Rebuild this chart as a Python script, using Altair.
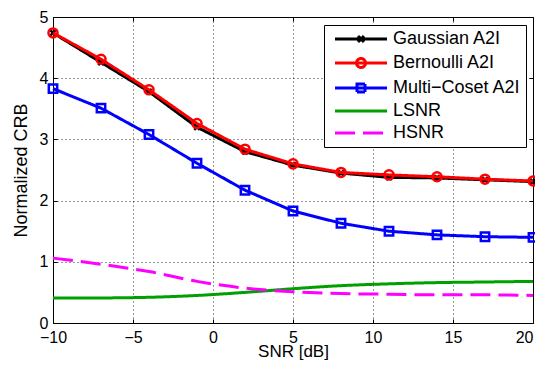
import altair as alt
import pandas as pd

# ---- data ----
snr = [-10, -7, -4, -1, 2, 5, 8, 11, 14, 17, 20]
gaussian = [4.74, 4.26, 3.78, 3.20, 2.80, 2.58, 2.45, 2.38, 2.37, 2.34, 2.31]
bernoulli = [4.74, 4.31, 3.81, 3.26, 2.84, 2.60, 2.46, 2.42, 2.39, 2.35, 2.32]
multicoset = [3.83, 3.51, 3.08, 2.61, 2.17, 1.83, 1.63, 1.50, 1.44, 1.41, 1.40]
lsnr = [0.41, 0.41, 0.42, 0.45, 0.50, 0.56, 0.61, 0.64, 0.66, 0.67, 0.68]
hsnr = [1.06, 0.96, 0.84, 0.68, 0.57, 0.51, 0.48, 0.47, 0.46, 0.46, 0.45]

series_names = ["Gaussian A2I", "Bernoulli A2I", "Multi\u2212Coset A2I", "LSNR", "HSNR"]
series_values = [gaussian, bernoulli, multicoset, lsnr, hsnr]
x_ticks = [-10, -5, 0, 5, 10, 15, 20]
y_ticks = [0, 1, 2, 3, 4, 5]

colors = ["#000000", "#ff0000", "#0000ff", "#00a000", "#ff00ff"]
dashes = [[1, 0], [1, 0], [1, 0], [1, 0], [20, 8]]
legend_shapes = [
    "M-5.2,0L5.2,0M-0.6,-0.6L0.6,0.6M-0.6,0.6L0.6,-0.6",
    "M-5.2,0L5.2,0M0.9,0A0.9,0.9 0 1 1 -0.9,0A0.9,0.9 0 1 1 0.9,0",
    "M-5.2,0L5.2,0M-0.8,-0.8L0.8,-0.8L0.8,0.8L-0.8,0.8Z",
    "M-5.2,0L5.2,0",
    "M-5.2,0L5.2,0",
]

rows = []
for name, vals in zip(series_names, series_values):
    for xv, yv in zip(snr, vals):
        rows.append({"series": name, "snr": xv, "crb": yv})
df = pd.DataFrame(rows)

FONT = "Liberation Sans"

xscale = alt.Scale(domain=[-10, 20], nice=False, zero=False)
yscale = alt.Scale(domain=[0, 5], nice=False, zero=False)

legend = alt.Legend(
    title=None, orient="none", legendX=271, legendY=8,
    fillColor="white", strokeColor="black", padding=5, cornerRadius=0,
    labelFont=FONT, labelFontSize=18, labelColor="black",
    symbolSize=100, symbolStrokeWidth=3, symbolOffset=23, labelOffset=23,
    rowPadding=4,
)
color_enc = alt.Color("series:N", scale=alt.Scale(domain=series_names, range=colors), legend=legend)
dash_enc = alt.StrokeDash("series:N", scale=alt.Scale(domain=series_names, range=dashes), legend=legend)
shape_enc = alt.Shape("series:N", scale=alt.Scale(domain=series_names, range=legend_shapes), legend=legend)

main_x_axis = alt.Axis(
    values=x_ticks, title="SNR [dB]", grid=True, gridDash=[1, 3], gridColor="#000000",
    gridOpacity=0.8, gridWidth=1, ticks=False, domain=False, labelFlush=False,
    labelOverlap=False, labelFont=FONT, labelFontSize=16, labelColor="black",
    labelExpr="datum.value == 20 ? '' : datum.label",
    labelPadding=6, titleFont=FONT, titleFontSize=17, titleFontWeight="normal",
    titleColor="black", titleBaseline="bottom", titleY=37, orient="bottom",
)
main_y_axis = alt.Axis(
    values=y_ticks, title="Normalized CRB", grid=True, gridDash=[1, 3], gridColor="#000000",
    gridOpacity=0.8, gridWidth=1, ticks=False, domain=False, labelFlush=False,
    labelOverlap=False, labelFont=FONT, labelFontSize=16, labelColor="black",
    labelPadding=5, titleFont=FONT, titleFontSize=18, titleFontWeight="normal",
    titleColor="black", titlePadding=9, orient="left",
)
# last x label, right-aligned so it stays inside the page
end_x_axis = alt.Axis(
    orient="bottom", values=[20], ticks=False, grid=False, domain=False, title=None,
    labelFlush=False, labelOverlap=False, labelFont=FONT, labelFontSize=16,
    labelColor="black", labelPadding=6, labelAlign="right",
)


def tick_axis(orient, values):
    return alt.Axis(
        orient=orient, values=values, offset=-4, tickSize=4, ticks=True,
        tickColor="black", tickWidth=1, labels=False, grid=False, domain=False, title=None,
    )


base = alt.Chart(df)


def xy(xaxis=None, yaxis=None):
    return dict(
        x=alt.X("snr:Q", scale=xscale, axis=xaxis),
        y=alt.Y("crb:Q", scale=yscale, axis=yaxis),
    )


smooth = base.transform_filter(
    alt.FieldOneOfPredicate(field="series", oneOf=["LSNR", "HSNR"])
).mark_line(strokeWidth=3, interpolate="monotone").encode(
    **xy(main_x_axis, main_y_axis), color=color_enc, strokeDash=dash_enc,
)


def series_line(i, xaxis=None, yaxis=None):
    return base.transform_filter(alt.datum.series == series_names[i]).mark_line(
        strokeWidth=3
    ).encode(**xy(xaxis, yaxis), color=color_enc, strokeDash=dash_enc)


def series_points(i, shape, size, xaxis=None, yaxis=None):
    return base.transform_filter(alt.datum.series == series_names[i]).mark_point(
        shape=shape, size=size, strokeWidth=2.5, color=colors[i], filled=False, opacity=1
    ).encode(**xy(xaxis, yaxis))


line_g = series_line(0, tick_axis("bottom", x_ticks), tick_axis("left", y_ticks))
pts_g = series_points(0, "M-1,-1L1,1M-1,1L1,-1", 30, tick_axis("top", x_ticks), tick_axis("right", y_ticks))
line_b = series_line(1, end_x_axis)
pts_b = series_points(1, "circle", 82)
line_m = series_line(2)
pts_m = series_points(2, "square", 70)

legend_layer = base.transform_filter("false").mark_point(
    filled=False, strokeWidth=3, size=100, opacity=1
).encode(
    **xy(), color=color_enc, strokeDash=dash_enc, shape=shape_enc,
)

chart = alt.layer(
    smooth, line_g, pts_g, line_b, pts_b, line_m, pts_m, legend_layer
).resolve_axis(
    x="independent", y="independent"
).properties(
    width=480, height=306,
    padding={"left": 45, "top": 9, "right": 2, "bottom": 37},
    autosize=alt.AutoSizeParams(type="none"),
    background="white",
).configure_view(stroke="black", strokeWidth=1)

chart.save("out.html", embed_options={"renderer": "svg", "actions": False})
